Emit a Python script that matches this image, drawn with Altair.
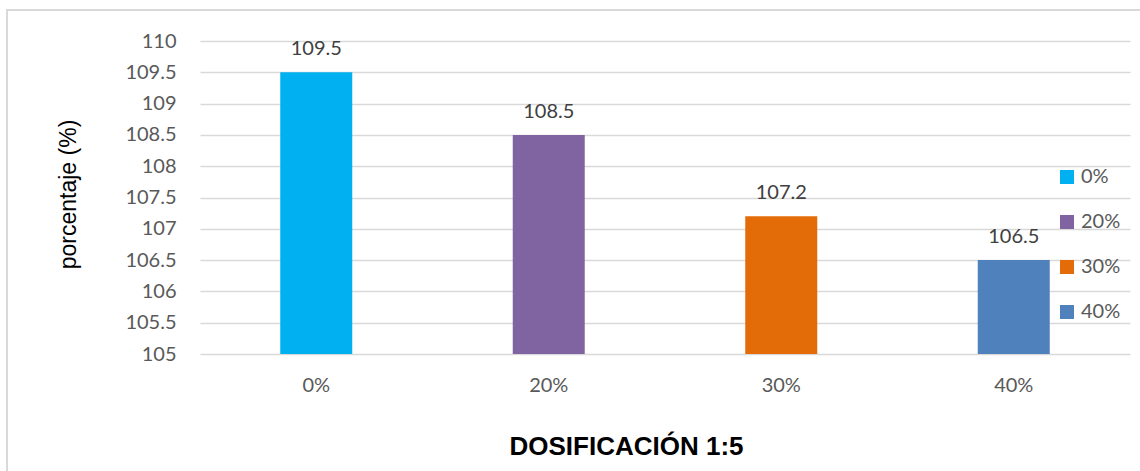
import altair as alt
import pandas as pd

categories = ["0%", "20%", "30%", "40%"]
values = [109.5, 108.5, 107.2, 106.5]
colors = ["#00B0F0", "#8064A2", "#E36C09", "#4F81BD"]
y_ticks = [105, 105.5, 106, 106.5, 107, 107.5, 108, 108.5, 109, 109.5, 110]

df = pd.DataFrame({"dosis": categories, "valor": values})

W, H = 930, 313
FONT = "Lato"
FS = 20

x_axis = alt.Axis(title="DOSIFICACIÓN 1:5", labelFont=FONT, labelFontSize=FS,
                  labelColor="#595959", labelPadding=21, labelAngle=0,
                  ticks=False, domain=False, grid=False,
                  titleFont="Liberation Sans", titleFontSize=26, titleFontWeight="bold",
                  titleColor="#000000", titleX=426, titleY=92, titleAlign="center",
                  titleBaseline="middle")
y_axis = alt.Axis(title="porcentaje (%)", values=y_ticks, format="~g",
                  labelFont=FONT, labelFontSize=FS, labelColor="#595959",
                  labelPadding=24, ticks=False, domain=False, labelOverlap=False,
                  grid=True, gridColor="#d9d9d9", gridWidth=1.5,
                  titleFont="Liberation Sans", titleFontSize=23, titleFontWeight="normal",
                  titleColor="#000000", titleAngle=-90, titleX=-132, titleY=153,
                  titleAlign="center", titleBaseline="middle")

x_scale = alt.Scale(domain=categories, paddingInner=0, paddingOuter=0)
y_scale = alt.Scale(domain=[105, 110], zero=False, nice=False)

border = alt.Chart(df).mark_rect(filled=False, stroke="#d9d9d9", strokeWidth=1.5, clip=False).encode(
    x=alt.value(-193), x2=alt.value(980), y=alt.value(-31), y2=alt.value(480)
)

bars = alt.Chart(df).mark_bar(width=72, clip=True).encode(
    x=alt.X("dosis:N", sort=categories, scale=x_scale, axis=x_axis),
    y=alt.Y("valor:Q", scale=y_scale, axis=y_axis),
    color=alt.Color("dosis:N", sort=categories,
                    scale=alt.Scale(domain=categories, range=colors),
                    legend=alt.Legend(title=None, orient="none", legendX=857, legendY=126,
                                      symbolType="square", symbolSize=196,
                                      symbolStrokeWidth=0, labelFont=FONT, labelFontSize=FS,
                                      labelColor="#595959", rowPadding=25, labelOffset=4)),
)

labels = alt.Chart(df).mark_text(font=FONT, fontSize=FS, color="#404040",
                                 baseline="alphabetic", dy=-17).encode(
    x=alt.X("dosis:N", sort=categories, scale=x_scale, axis=x_axis),
    y=alt.Y("valor:Q", scale=y_scale, axis=y_axis),
    text=alt.Text("valor:Q", format=".1f"),
)

chart = alt.layer(border, bars, labels).properties(
    width=W, height=H,
    padding={"left": 200, "top": 41, "right": 10, "bottom": 117},
    autosize=alt.AutoSizeParams(type="none"),
    background="white",
).configure_view(stroke=None)

chart.save("out.html", embed_options={"renderer": "svg", "actions": False})
